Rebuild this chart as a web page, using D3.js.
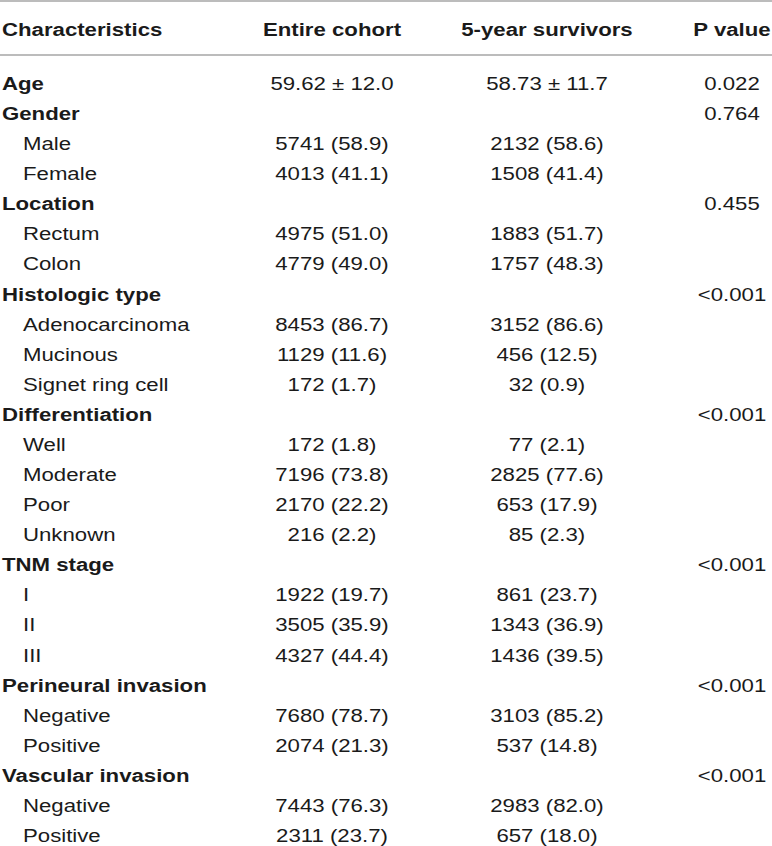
<!DOCTYPE html>
<html>
<head>
<meta charset="utf-8">
<script src="https://cdn.jsdelivr.net/npm/d3@7"></script>
<style>
  html, body { margin: 0; padding: 0; background: #fff; }
  svg { display: block; }
  text { font-family: "Liberation Sans", Arial, Helvetica, sans-serif; fill: #1a1a1a; }
</style>
</head>
<body>
<div id="chart"></div>
<script>
// table content
const headers = ["Characteristics", "Entire cohort", "5-year survivors", "P value"];

const labels = [
    "Age", "Gender", "Male", "Female",
    "Location", "Rectum", "Colon",
    "Histologic type", "Adenocarcinoma", "Mucinous", "Signet ring cell",
    "Differentiation", "Well", "Moderate", "Poor", "Unknown",
    "TNM stage", "I", "II", "III",
    "Perineural invasion", "Negative", "Positive",
    "Vascular invasion", "Negative", "Positive"
];

// 1 = bold group row, 0 = indented sub row
const isGroup = [1, 1, 0, 0, 1, 0, 0, 1, 0, 0, 0, 1, 0, 0, 0, 0, 1, 0, 0, 0, 1, 0, 0, 1, 0, 0];

const entireCohort = [
    "59.62 ± 12.0", "", "5741 (58.9)", "4013 (41.1)",
    "", "4975 (51.0)", "4779 (49.0)",
    "", "8453 (86.7)", "1129 (11.6)", "172 (1.7)",
    "", "172 (1.8)", "7196 (73.8)", "2170 (22.2)", "216 (2.2)",
    "", "1922 (19.7)", "3505 (35.9)", "4327 (44.4)",
    "", "7680 (78.7)", "2074 (21.3)",
    "", "7443 (76.3)", "2311 (23.7)"
];

const survivors = [
    "58.73 ± 11.7", "", "2132 (58.6)", "1508 (41.4)",
    "", "1883 (51.7)", "1757 (48.3)",
    "", "3152 (86.6)", "456 (12.5)", "32 (0.9)",
    "", "77 (2.1)", "2825 (77.6)", "653 (17.9)", "85 (2.3)",
    "", "861 (23.7)", "1343 (36.9)", "1436 (39.5)",
    "", "3103 (85.2)", "537 (14.8)",
    "", "2983 (82.0)", "657 (18.0)"
];

const pValues = [
    "0.022", "0.764", "", "",
    "0.455", "", "",
    "<0.001", "", "", "",
    "<0.001", "", "", "", "",
    "<0.001", "", "", "",
    "<0.001", "", "",
    "<0.001", "", ""
];

const width = 772;
const height = 846;
const stretch = 1.2; // glyphs in the source are wider than Arial

const svg = d3.select("#chart").append("svg")
    .attr("width", width)
    .attr("height", height);

// row baselines
const y = d3.scalePoint()
    .domain(d3.range(labels.length))
    .range([90, 842]);

// column centres for the value columns
const colX = d3.scaleOrdinal()
    .domain(["entire", "survivors", "p"])
    .range([332, 547, 732]);

const ruleColor = "#a6a6a6";
svg.append("line")
    .attr("x1", 0).attr("x2", width)
    .attr("y1", 1).attr("y2", 1)
    .attr("stroke", ruleColor).attr("stroke-width", 1.6);
svg.append("line")
    .attr("x1", 0).attr("x2", width)
    .attr("y1", 55).attr("y2", 55)
    .attr("stroke", ruleColor).attr("stroke-width", 1.6);

function cell(x, yy, str, anchor, bold) {
    svg.append("text")
        .attr("transform", `translate(${x},${yy}) scale(${stretch},1)`)
        .attr("text-anchor", anchor)
        .attr("font-size", "18.5px")
        .attr("font-weight", bold ? "bold" : "normal")
        .text(str);
}

// header
const headerY = 36;
cell(2, headerY, headers[0], "start", true);
cell(colX("entire"), headerY, headers[1], "middle", true);
cell(colX("survivors"), headerY, headers[2], "middle", true);
cell(colX("p"), headerY, headers[3], "middle", true);

// body
labels.forEach((lab, i) => {
    const yy = y(i);
    cell(isGroup[i] ? 2 : 23, yy, lab, "start", isGroup[i] === 1);
    if (entireCohort[i]) cell(colX("entire"), yy, entireCohort[i], "middle", false);
    if (survivors[i]) cell(colX("survivors"), yy, survivors[i], "middle", false);
    if (pValues[i]) cell(colX("p"), yy, pValues[i], "middle", false);
});
</script>
</body>
</html>
